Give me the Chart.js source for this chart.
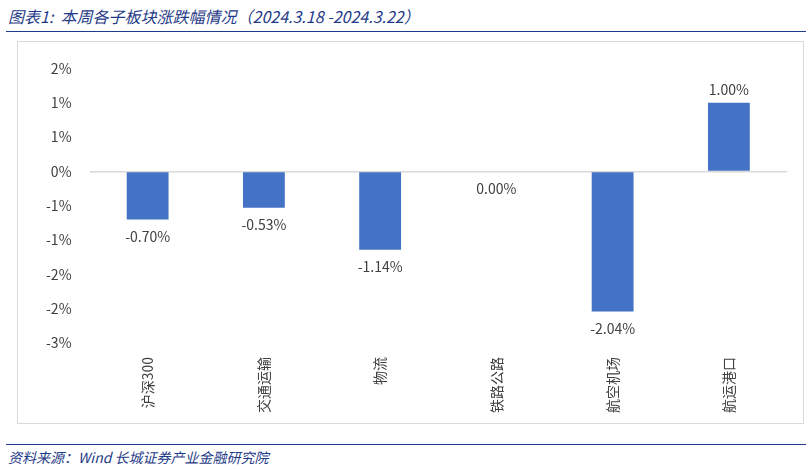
<!DOCTYPE html>
<html lang="zh">
<head>
<meta charset="UTF-8">
<script src="https://cdn.jsdelivr.net/npm/chart.js@4.4.0/dist/chart.umd.min.js"></script>
<style>
  body { margin: 0; background: #fff; font-family: "Noto Sans CJK SC", sans-serif; }
  #title { position: absolute; left: 8px; top: 4px; font-size: 16px; font-style: italic; color: #1f3b87; }
  #topline { position: absolute; left: 6px; top: 31px; width: 800px; border-top: 1.5px solid #1f3b87; }
  #box { position: absolute; left: 17px; top: 41px; width: 787px; height: 383px; border: 1px solid #d9d9d9; box-sizing: border-box; }
  #botline { position: absolute; left: 6px; top: 444px; width: 800px; border-top: 1.5px solid #1f3b87; }
  #src { position: absolute; left: 8px; top: 447px; font-size: 14px; font-style: italic; color: #1f3b87; }
</style>
</head>
<body>
<div id="title">图表1:&nbsp; 本周各子板块涨跌幅情况（2024.3.18 -2024.3.22）</div>
<div id="topline"></div>
<div id="box"><canvas id="myChart" width="785" height="381"></canvas></div>
<div id="botline"></div>
<div id="src">资料来源：Wind 长城证券产业金融研究院</div>
<script>
const categories = ['沪深300', '交通运输', '物流', '铁路公路', '航空机场', '航运港口'];
const changes = [-0.70, -0.53, -1.14, 0.00, -2.04, 1.00];
const tickValues = [1.5, 1.0, 0.5, 0, -0.5, -1.0, -1.5, -2.0, -2.5];
const tickLabels = ['2%', '1%', '1%', '0%', '-1%', '-1%', '-2%', '-2%', '-3%'];

const valueLabels = {
  id: 'valueLabels',
  afterDatasetsDraw(chart) {
    const ctx = chart.ctx;
    const meta = chart.getDatasetMeta(0);
    ctx.save();
    ctx.font = '14px "Noto Sans CJK SC", sans-serif';
    ctx.fillStyle = '#404040';
    ctx.textAlign = 'center';
    meta.data.forEach((bar, i) => {
      const v = changes[i];
      const txt = v.toFixed(2) + '%';
      if (v > 0) { ctx.textBaseline = 'bottom'; ctx.fillText(txt, bar.x, bar.y - 6); }
      else { ctx.textBaseline = 'top'; ctx.fillText(txt, bar.x, bar.y + 10); }
    });
    ctx.restore();
  }
};

new Chart(document.getElementById('myChart'), {
  type: 'bar',
  data: {
    labels: categories,
    datasets: [{ data: changes, backgroundColor: '#4472c4', barPercentage: 0.36, categoryPercentage: 1 }]
  },
  options: {
    responsive: false,
    animation: false,
    layout: { padding: { left: 10, right: 16, top: 22, bottom: 4 } },
    plugins: { legend: { display: false }, tooltip: { enabled: false } },
    scales: {
      x: {
        grid: { display: false },
        border: { display: false },
        ticks: { minRotation: 90, maxRotation: 90, color: '#404040', font: { size: 14, family: '"Noto Sans CJK SC"' }, padding: 6 }
      },
      y: {
        min: -2.5, max: 1.5,
        afterBuildTicks(axis) { axis.ticks = tickValues.map(v => ({ value: v })); },
        grid: { color: c => c.tick && c.tick.value === 0 ? '#d9d9d9' : 'rgba(0,0,0,0)', drawTicks: false, lineWidth: 1.5 },
        border: { display: false },
        ticks: {
          color: '#404040', font: { size: 14, family: '"Noto Sans CJK SC"' }, padding: 18,
          callback: (v) => tickLabels[tickValues.indexOf(v)]
        }
      }
    }
  },
  plugins: [valueLabels]
});
</script>
</body>
</html>
